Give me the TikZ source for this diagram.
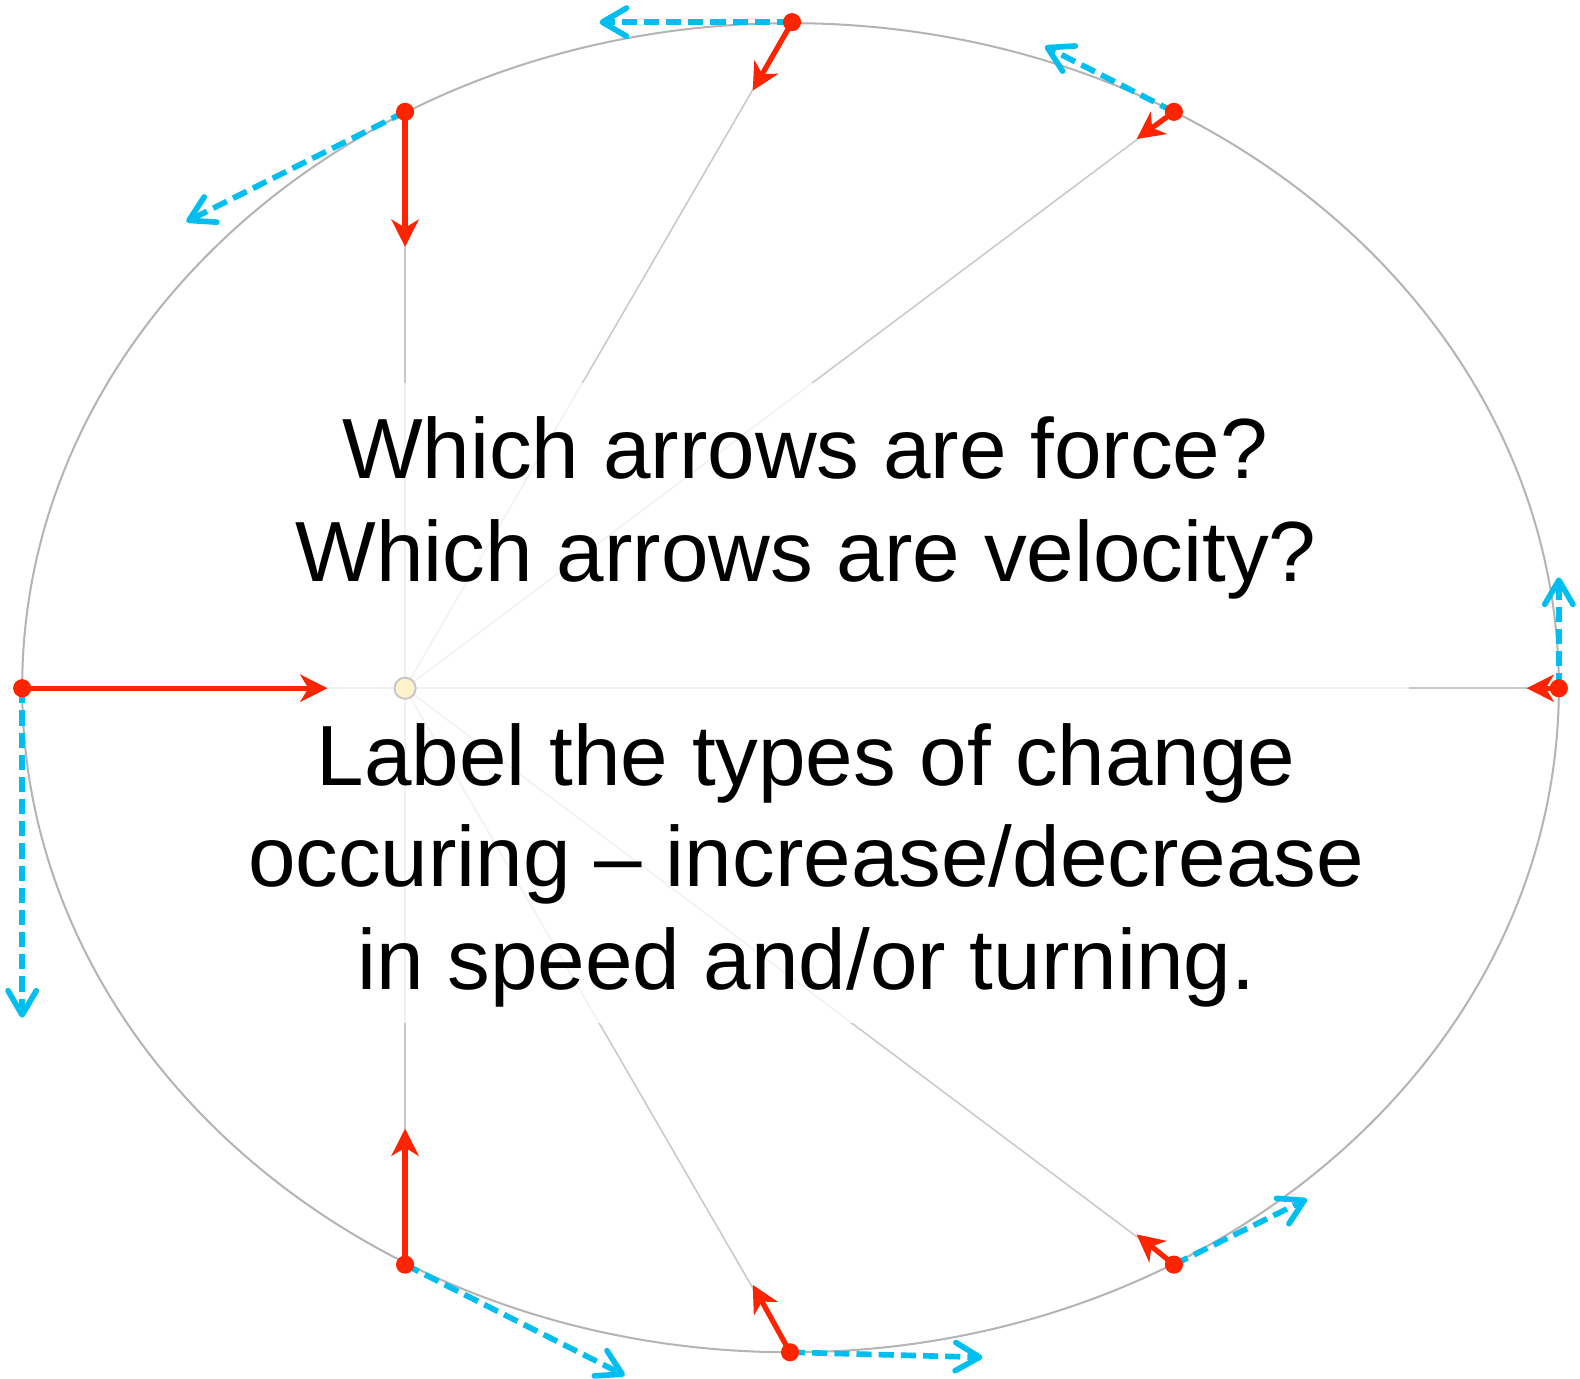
\documentclass[tikz,border=0pt]{standalone}
\usepackage{fontspec}
\setmainfont{Liberation Sans}
\usetikzlibrary{arrows.meta}
\definecolor{forcered}{RGB}{255,36,0}
\definecolor{velblue}{RGB}{0,190,240}
\definecolor{orbitgray}{RGB}{180,180,180}
\definecolor{radialgray}{RGB}{200,200,200}
\definecolor{focusfill}{RGB}{255,242,204}
\tikzset{
  orbit/.style={draw=orbitgray, line width=1pt},
  radial/.style={draw=radialgray, line width=0.75pt},
  force/.style={draw=forcered, line width=2.6pt, -{Stealth[length=13.5pt,width=13.5pt,inset=4pt]}},
  velocity/.style={draw=velblue, line width=2.8pt, dash pattern=on 7.5pt off 3.5pt,
    -{Straight Barb[length=12pt,width=14pt,round]}},
  bodydot/.style={circle, fill=forcered, inner sep=0pt, minimum size=9pt},
  focusdot/.style={circle, fill=focusfill, draw=radialgray, line width=1pt, inner sep=0pt, minimum size=10.5pt},
  question/.style={font=\fontsize{42.4}{51}\selectfont, text=black, anchor=base, inner sep=0pt}
}
\begin{document}
\begin{tikzpicture}[x=0.5pt,y=-0.5pt]
\useasboundingbox (0,0) rectangle (1568,1368);
% orbit
\draw[orbit] (784.5,682.5) ellipse [x radius=762.5, y radius=659.5];
% positions on the orbit
\coordinate (P1) at (786,22);
\coordinate (P2) at (1165,111);
\coordinate (P3) at (402,111);
\coordinate (P4) at (22,683);
\coordinate (P5) at (1547,683);
\coordinate (P6) at (402,1255);
\coordinate (P7) at (784,1342);
\coordinate (P8) at (1165,1255);
% force tips
\coordinate (F1) at (747,90);
\coordinate (F2) at (1128,138);
\coordinate (F3) at (402,245);
\coordinate (F4) at (325,683);
\coordinate (F5) at (1515,683);
\coordinate (F6) at (402,1120);
\coordinate (F7) at (747,1275);
\coordinate (F8) at (1128,1225);
% velocity tips
\coordinate (V1) at (595,22);
\coordinate (V2) at (1037,46);
\coordinate (V3) at (185,220);
\coordinate (V4) at (22,1010);
\coordinate (V5) at (1547,573);
\coordinate (V6) at (620,1365);
\coordinate (V7) at (975,1347);
\coordinate (V8) at (1297,1190);
% focus
\coordinate (S) at (402,683);
\foreach \i in {1,...,8} {\draw[radial] (S) -- (P\i);}
% translucent text panel
\fill[white, fill opacity=0.75] (200,380) rectangle (1398,1015);
\node[focusdot] (sun) at (S) {};
% text
\node[question] (q1) at (799,475) {Which arrows are force?};
\node[question] (q2) at (800,577) {Which arrows are velocity?};
\node[question] (q3) at (800,780) {Label the types of change};
\node[question] (q4) at (800,880) {occuring – increase/decrease};
\node[question] (q5) at (800,982) {in speed and/or turning.};
% arrows
\foreach \i in {1,...,8} {
  \draw[velocity] (P\i) -- (V\i);
  \draw[force] (P\i) -- (F\i);
  \node[bodydot] (b\i) at (P\i) {};
}
\end{tikzpicture}
\end{document}
